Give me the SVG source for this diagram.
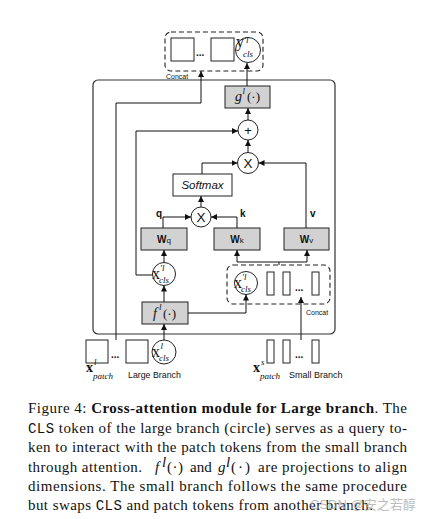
<svg xmlns="http://www.w3.org/2000/svg" width="431" height="519" viewBox="0 0 431 519">
<style>
.ln{fill:none;stroke:#111;stroke-width:1}
.ar{fill:none;stroke:#111;stroke-width:1;marker-end:url(#ah)}
.box{fill:#d2d2d2;stroke:#222;stroke-width:1}
.wbox{fill:#fff;stroke:#222;stroke-width:1}
.cir{fill:#fff;stroke:#222;stroke-width:1}
.dash{fill:none;stroke:#222;stroke-width:1.1;stroke-dasharray:5,3}
.sans{font-family:"Liberation Sans",Arial,sans-serif;fill:#111}
.ser{font-family:"Liberation Serif","Times New Roman",serif;fill:#111}
.mono{font-family:"Liberation Mono","Courier New",monospace}
.it{font-style:italic}
.b{font-weight:bold}
.cap{font-family:"Liberation Serif","Times New Roman",serif;font-size:15px;fill:#111}
.mx{font-size:16px}
.sup{font-size:9px;font-style:italic}
.sub{font-size:9px;font-style:italic}
</style>
<defs>
<marker id="ah" viewBox="0 0 10 10" refX="10" refY="5" markerWidth="6" markerHeight="6" orient="auto" markerUnits="userSpaceOnUse">
<path d="M0,0 L10,5 L0,10 z" fill="#111"/>
</marker>
</defs>

<g id="main-module">
<rect x="93" y="80" width="242" height="254" rx="5" fill="none" stroke="#333" stroke-width="1.2"/>
</g>

<g id="concat-top">
<rect class="dash" x="165" y="32" width="98" height="39" rx="6"/>
<rect class="wbox" x="171" y="38" width="23" height="23"/>
<text class="sans b" x="196" y="56" font-size="10">...</text>
<rect class="wbox" x="211" y="38" width="23" height="23"/>
<text class="sans" x="166" y="79" font-size="7">Concat</text>
</g>
<g id="y-cls">
<circle class="cir" cx="248" cy="50" r="12.5"/>
<text class="ser mx" x="236" y="47">y</text>
<text class="ser sup" x="244" y="43">′l</text>
<text class="ser sub" x="243" y="56.5">cls</text>
</g>
<g id="g-proj">
<rect class="box" x="225" y="86" width="45" height="22"/>
<text class="ser it" x="235" y="101" font-size="14">g</text>
<text class="ser it" x="242.5" y="94" font-size="9">l</text>
<text class="ser" x="247" y="101" font-size="13">(·)</text>
</g>
<g id="plus">
<circle class="cir" cx="248" cy="130" r="10"/>
<text class="sans" x="248" y="134.5" font-size="13" text-anchor="middle">+</text>
</g>
<g id="times-top">
<circle class="cir" cx="248" cy="163" r="10.5"/>
<text class="sans" x="248" y="168" font-size="13.5" text-anchor="middle" fill="#222">X</text>
</g>
<g id="softmax">
<rect class="wbox" x="173" y="174" width="59" height="22"/>
<text class="sans it" x="202.5" y="189" font-size="11.5" text-anchor="middle">Softmax</text>
</g>
<g id="times-low">
<circle class="cir" cx="201" cy="217" r="10"/>
<text class="sans" x="201" y="222" font-size="13.5" text-anchor="middle" fill="#222">X</text>
</g>
<g id="labels-qkv">
<text class="sans b" x="156" y="217" font-size="10">q</text>
<text class="sans b" x="240" y="217" font-size="10">k</text>
<text class="sans b" x="310" y="217" font-size="10">v</text>
</g>
<g id="Wq">
<rect class="box" x="141" y="228" width="46" height="22"/>
<text class="sans" x="164" y="243" font-size="10" text-anchor="middle"><tspan class="b">W</tspan><tspan font-size="8">q</tspan></text>
</g>
<g id="Wk">
<rect class="box" x="214" y="228" width="46" height="22"/>
<text class="sans" x="237" y="243" font-size="10" text-anchor="middle"><tspan class="b">W</tspan><tspan font-size="8">k</tspan></text>
</g>
<g id="Wv">
<rect class="box" x="284" y="228" width="45" height="22"/>
<text class="sans" x="306.5" y="243" font-size="10" text-anchor="middle"><tspan class="b">W</tspan><tspan font-size="8">v</tspan></text>
</g>
<g id="x-cls-prime">
<circle class="cir" cx="164" cy="274" r="11.5"/>
<text class="ser mx" x="152" y="279">x</text>
<text class="ser sup" x="160" y="271">′l</text>
<text class="ser sub" x="159" y="282.5">cls</text>
</g>
<g id="f-proj">
<rect class="box" x="142" y="302" width="46" height="22"/>
<text class="ser it" x="153" y="318" font-size="14">f</text>
<text class="ser it" x="159" y="310" font-size="9">l</text>
<text class="ser" x="163" y="318" font-size="13">(·)</text>
</g>
<g id="concat-low">
<rect class="dash" x="227" y="265" width="103" height="39" rx="6"/>
<circle class="cir" cx="246" cy="283" r="11.5"/>
<text class="ser mx" x="234" y="288">x</text>
<text class="ser sup" x="242" y="280">′l</text>
<text class="ser sub" x="241" y="291.5">cls</text>
<rect class="wbox" x="267" y="272" width="7" height="23"/>
<rect class="wbox" x="283" y="272" width="7" height="23"/>
<text class="sans b" x="295" y="291" font-size="10">...</text>
<rect class="wbox" x="312" y="272" width="7" height="23"/>
<text class="sans" x="306" y="315" font-size="7">Concat</text>
</g>
<g id="large-branch">
<rect class="wbox" x="86" y="340" width="22" height="23"/>
<text class="sans b" x="111" y="358" font-size="10">...</text>
<rect class="wbox" x="126" y="340" width="22" height="23"/>
<circle class="cir" cx="164" cy="352" r="12"/>
<text class="ser mx" x="152" y="357">x</text>
<text class="ser sup" x="160.5" y="349">l</text>
<text class="ser sub" x="159" y="360.5">cls</text>
<text class="ser b" x="86" y="372" font-size="14">x</text>
<text class="ser it" x="94" y="365" font-size="9">l</text>
<text class="ser it" x="93" y="379" font-size="9">patch</text>
<text class="sans" x="128" y="378" font-size="8.8">Large Branch</text>
</g>
<g id="small-branch">
<rect class="wbox" x="267" y="340" width="7" height="23"/>
<rect class="wbox" x="283" y="340" width="7" height="23"/>
<text class="sans b" x="295" y="358" font-size="10">...</text>
<rect class="wbox" x="312" y="340" width="7" height="23"/>
<text class="ser b" x="253" y="372" font-size="14">x</text>
<text class="ser it" x="261" y="365" font-size="9">s</text>
<text class="ser it" x="260" y="379" font-size="9">patch</text>
<text class="sans" x="289" y="378" font-size="9">Small Branch</text>
</g>

<g id="connectors">
<path class="ar" d="M247,86 V63"/>
<path class="ar" d="M116,340 V103 H201 V71"/>
<path class="ar" d="M248,120 V108"/>
<path class="ar" d="M248,152.5 V140"/>
<path class="ar" d="M202,174 V163 H237.5"/>
<path class="ar" d="M306,228 V163 H258.5"/>
<path class="ar" d="M201,207 V196"/>
<path class="ar" d="M163,228 V217 H191"/>
<path class="ar" d="M237,228 V217 H211"/>
<path class="ar" d="M164,262.5 V250"/>
<path class="ar" d="M152.5,275 H136 V131 H238"/>
<path class="ar" d="M164,302 V285.5"/>
<path class="ar" d="M164,340 V324"/>
<path class="ar" d="M188,313 H246 V294.5"/>
<path class="ln" d="M279,265 V262 M237,262 H307"/>
<path class="ar" d="M237,262 V250"/>
<path class="ar" d="M307,262 V250"/>
<path class="ar" d="M301,340 V297"/>
</g>

<g id="caption">
<text class="cap" x="28" y="413" textLength="379" lengthAdjust="spacing">Figure 4: <tspan class="b">Cross-attention module for Large branch</tspan>. The</text>
<text class="cap" x="28" y="432.5" textLength="379" lengthAdjust="spacing"><tspan class="mono" font-size="14">CLS</tspan> token of the large branch (circle) serves as a query to-</text>
<text class="cap" x="28" y="452" textLength="379" lengthAdjust="spacing">ken to interact with the patch tokens from the small branch</text>
<text class="cap" x="28" y="471.5" textLength="114" lengthAdjust="spacing">through attention.</text>
<text class="cap it" x="155" y="471.5">f</text>
<text class="cap it" x="162" y="467" font-size="8.5">l</text>
<text class="cap" x="167" y="471.5" textLength="16" lengthAdjust="spacing">(·)</text>
<text class="cap" x="190" y="471.5">and</text>
<text class="cap it" x="218" y="471.5">g</text>
<text class="cap it" x="226" y="467" font-size="8.5">l</text>
<text class="cap" x="231" y="471.5" textLength="19" lengthAdjust="spacing">(·)</text>
<text class="cap" x="258" y="471.5" textLength="149" lengthAdjust="spacing">are projections to align</text>
<text class="cap" x="28" y="490.5" textLength="379" lengthAdjust="spacing">dimensions. The small branch follows the same procedure</text>
<text class="cap" x="28" y="510" textLength="345" lengthAdjust="spacing">but swaps <tspan class="mono" font-size="14">CLS</tspan> and patch tokens from another branch.</text>
<text x="310" y="509" font-family="'Liberation Sans','Noto Sans CJK SC',sans-serif" font-size="13" fill="#aaaaaa" fill-opacity="0.8">CSDN @安之若醇</text>
</g>
</svg>
